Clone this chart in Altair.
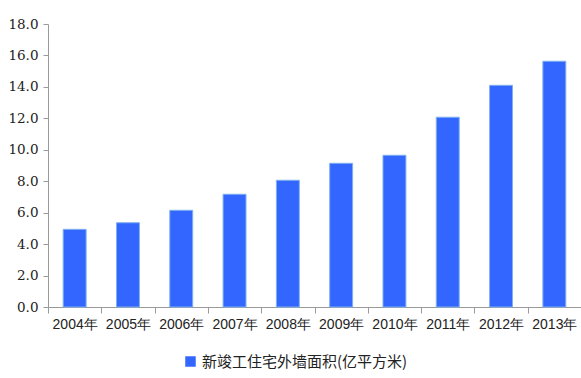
import altair as alt
import pandas as pd

years = ["2004年", "2005年", "2006年", "2007年", "2008年", "2009年", "2010年", "2011年", "2012年", "2013年"]
values = [4.94, 5.36, 6.15, 7.17, 8.06, 9.14, 9.65, 12.07, 14.1, 15.63]
series_name = "新竣工住宅外墙面积(亿平方米)"
y_ticks = [0, 2, 4, 6, 8, 10, 12, 14, 16, 18]

df = pd.DataFrame({"year": years, "value": values, "series": [series_name] * len(years)})

chart = alt.Chart(df).mark_bar(
    width=alt.RelativeBandSize(0.43),
    stroke="#7fb0ee",
    strokeWidth=1,
).encode(
    x=alt.X("year:N", sort=years,
            scale=alt.Scale(paddingInner=0, paddingOuter=0),
            axis=alt.Axis(title=None, labelAngle=0, tickBand="extent",
                          labelFontSize=14,
                          labelColor="#222", domainColor="#9a9a9a", tickColor="#9a9a9a",
                          tickSize=6, labelPadding=4)),
    y=alt.Y("value:Q",
            scale=alt.Scale(domain=[0, 18], nice=False),
            axis=alt.Axis(title=None, values=y_ticks, format=".1f", grid=False,
                          labelFontSize=13.5,
                          labelColor="#222", domainColor="#9a9a9a", tickColor="#9a9a9a",
                          tickSize=5, labelPadding=5)),
    color=alt.Color("series:N",
                    scale=alt.Scale(range=["#3366FF"]),
                    legend=alt.Legend(title=None, orient="none", legendX=135, legendY=330,
                                      symbolType="square", symbolSize=110,
                                      symbolStrokeWidth=0, labelLimit=400,
                                      labelFontSize=15, labelColor="#222")),
).properties(
    width=533,
    height=283,
    autosize=alt.AutoSizeParams(type="none"),
    padding={"left": 48, "top": 24, "right": 0, "bottom": 71},
).configure_view(stroke=None
).configure_axisY(labelFont="DejaVu Serif"
).configure_axisX(labelFont="Liberation Sans"
).configure_legend(labelFont="Noto Sans CJK SC")

chart.save("out.html", embed_options={"renderer": "svg", "actions": False})
